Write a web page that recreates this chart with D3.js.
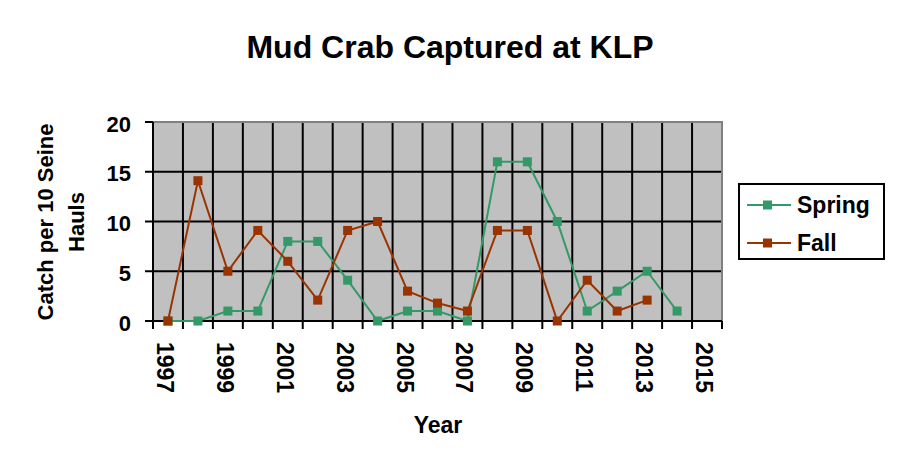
<!DOCTYPE html>
<html>
<head>
<meta charset="utf-8">
<script src="https://cdn.jsdelivr.net/npm/d3@7"></script>
<style>
  html, body { margin: 0; padding: 0; background: #fff; }
  svg text { font-family: "Liberation Sans", Arial, sans-serif; font-weight: bold; fill: #000; }
</style>
</head>
<body>
<svg id="chart" width="900" height="473"></svg>
<script>
const years = ["1997", "1998", "1999", "2000", "2001", "2002", "2003", "2004", "2005", "2006",
  "2007", "2008", "2009", "2010", "2011", "2012", "2013", "2014", "2015"];
const yearLabels = ["1997", "1999", "2001", "2003", "2005", "2007", "2009", "2011", "2013", "2015"];
const springValues = [0, 0, 1, 1, 8, 8, 4.1, 0, 1, 1, 0, 16, 16, 10, 1, 3, 5, 1, null];
const fallValues = [0, 14.1, 5, 9.1, 6, 2.1, 9.1, 10, 3, 1.8, 1, 9.1, 9.1, 0, 4.1, 1, 2.1, null, null];
const yTicks = [0, 5, 10, 15, 20];

document.addEventListener("DOMContentLoaded", () => {
  const svg = d3.select("#chart");

  const plot = { left: 153, right: 722, top: 122, bottom: 321 };

  const x = d3.scaleBand()
    .domain(years)
    .range([plot.left, plot.right]);

  const y = d3.scaleLinear()
    .domain([0, 20])
    .range([plot.bottom, plot.top]);

  // title
  svg.append("text")
    .attr("x", 450)
    .attr("y", 58)
    .attr("text-anchor", "middle")
    .style("font-size", "32px")
    .text("Mud Crab Captured at KLP");

  // plot background
  svg.append("rect")
    .attr("x", plot.left)
    .attr("y", plot.top)
    .attr("width", plot.right - plot.left)
    .attr("height", plot.bottom - plot.top)
    .attr("fill", "#c0c0c0");

  // horizontal gridlines
  svg.append("g")
    .selectAll("line")
    .data(yTicks.filter(d => d > 0 && d < 20))
    .enter()
    .append("line")
    .attr("x1", plot.left)
    .attr("x2", plot.right)
    .attr("y1", d => y(d))
    .attr("y2", d => y(d))
    .attr("stroke", "#000")
    .attr("stroke-width", 2);

  // vertical gridlines at category edges + ticks below the axis
  const edges = years.map(d => x(d)).concat([plot.right]);
  svg.append("g")
    .selectAll("line")
    .data(edges.slice(1, -1))
    .enter()
    .append("line")
    .attr("x1", d => d)
    .attr("x2", d => d)
    .attr("y1", plot.top)
    .attr("y2", plot.bottom + 8)
    .attr("stroke", "#000")
    .attr("stroke-width", 2);

  svg.append("line")
    .attr("x1", plot.right).attr("x2", plot.right)
    .attr("y1", plot.bottom).attr("y2", plot.bottom + 8)
    .attr("stroke", "#000").attr("stroke-width", 2);

  // top & right border (gray)
  svg.append("path")
    .attr("d", `M${plot.left},${plot.top}H${plot.right}V${plot.bottom}`)
    .attr("fill", "none")
    .attr("stroke", "#808080")
    .attr("stroke-width", 2);

  // y axis
  const yAxis = svg.append("g");
  yAxis.append("line")
    .attr("x1", plot.left).attr("x2", plot.left)
    .attr("y1", plot.top).attr("y2", plot.bottom + 8)
    .attr("stroke", "#000").attr("stroke-width", 2);

  yAxis.selectAll("line.tick")
    .data(yTicks)
    .enter()
    .append("line")
    .attr("class", "tick")
    .attr("x1", plot.left - 8)
    .attr("x2", plot.left)
    .attr("y1", d => y(d))
    .attr("y2", d => y(d))
    .attr("stroke", "#000")
    .attr("stroke-width", 2);

  yAxis.selectAll("text")
    .data(yTicks)
    .enter()
    .append("text")
    .attr("x", 131)
    .attr("y", d => y(d) + 9.5)
    .attr("text-anchor", "end")
    .style("font-size", "22px")
    .text(d => d);

  // x axis
  svg.append("line")
    .attr("x1", plot.left).attr("x2", plot.right)
    .attr("y1", plot.bottom).attr("y2", plot.bottom)
    .attr("stroke", "#000").attr("stroke-width", 2);

  svg.append("g")
    .selectAll("text")
    .data(yearLabels)
    .enter()
    .append("text")
    .attr("transform", d => `translate(${x(d) + x.bandwidth() / 2 - 11},342) rotate(90)`)
    .style("font-size", "23px")
    .text(d => d);

  // axis titles
  svg.append("text")
    .attr("x", 438)
    .attr("y", 433)
    .attr("text-anchor", "middle")
    .style("font-size", "23px")
    .text("Year");

  const yTitle = svg.append("text")
    .attr("transform", "translate(53,222) rotate(-90)")
    .attr("text-anchor", "middle")
    .style("font-size", "22px");
  yTitle.append("tspan").attr("x", 0).attr("y", 0).text("Catch per 10 Seine");
  yTitle.append("tspan").attr("x", 0).attr("y", 31).text("Hauls");

  // series
  const series = [
    { name: "Spring", values: springValues, color: "#339966" },
    { name: "Fall", values: fallValues, color: "#993300" }
  ];

  const line = d3.line()
    .defined(d => d.v !== null)
    .x(d => x(d.year) + x.bandwidth() / 2)
    .y(d => y(d.v));

  series.forEach(s => {
    const pts = years.map((year, i) => ({ year, v: s.values[i] }));
    const g = svg.append("g");
    g.append("path")
      .attr("d", line(pts))
      .attr("fill", "none")
      .attr("stroke", s.color)
      .attr("stroke-width", 2);
    g.selectAll("rect")
      .data(pts.filter(d => d.v !== null))
      .enter()
      .append("rect")
      .attr("x", d => x(d.year) + x.bandwidth() / 2 - 4.5)
      .attr("y", d => y(d.v) - 4.5)
      .attr("width", 9)
      .attr("height", 9)
      .attr("fill", s.color);
  });

  // legend
  const legend = svg.append("g");
  legend.append("rect")
    .attr("x", 739)
    .attr("y", 184)
    .attr("width", 145)
    .attr("height", 75)
    .attr("fill", "#fff")
    .attr("stroke", "#000")
    .attr("stroke-width", 2);

  series.forEach((s, i) => {
    const ly = 205 + i * 38;
    legend.append("line")
      .attr("x1", 747).attr("x2", 791)
      .attr("y1", ly).attr("y2", ly)
      .attr("stroke", s.color).attr("stroke-width", 2);
    legend.append("rect")
      .attr("x", 763).attr("y", ly - 4.5)
      .attr("width", 9).attr("height", 9)
      .attr("fill", s.color);
    legend.append("text")
      .attr("x", 797)
      .attr("y", ly + 8)
      .style("font-size", "23px")
      .text(s.name);
  });
});
</script>
</body>
</html>
